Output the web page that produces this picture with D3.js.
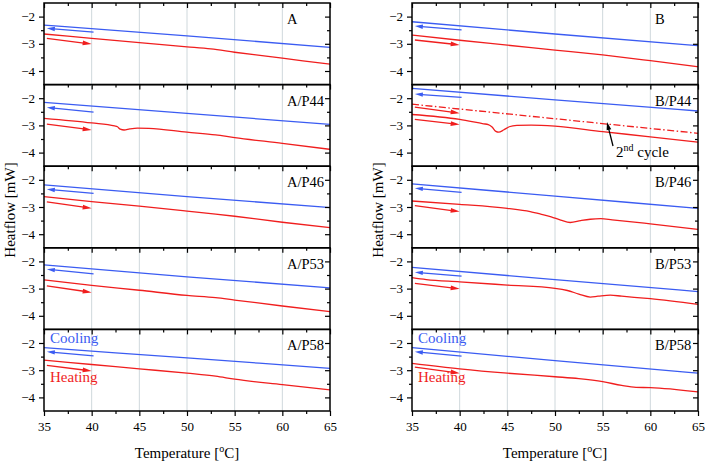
<!DOCTYPE html>
<html><head><meta charset="utf-8">
<script src="https://cdn.jsdelivr.net/npm/d3@7"></script>
<style>body{margin:0;background:#fff}svg{display:block}</style>
</head><body>
<svg id="chart" width="705" height="464"></svg>
<script>
// ---------- DATA ----------
const panelLabels = ["A","A/P44","A/P46","A/P53","A/P58","B","B/P44","B/P46","B/P53","B/P58"];
const xMajorTicks = [35,40,45,50,55,60,65];
const xMinorTicks = [37.5,42.5,47.5,52.5,57.5,62.5];
const yMajorTicks = [-2,-3,-4];
const yMinorTicks = [-2.5,-3.5];
const gridTemps = [40,45,50,55,60];

// cooling curves [T, heatflow]
const coolA    = [[35,-2.31],[50,-2.71],[65,-3.13]];
const coolAP44 = [[35,-2.15],[50,-2.56],[65,-2.96]];
const coolAP46 = [[35,-2.19],[50,-2.62],[65,-3.02]];
const coolAP53 = [[35,-2.13],[50,-2.57],[65,-2.97]];
const coolAP58 = [[35,-2.17],[50,-2.55],[65,-2.93]];
const coolB    = [[35,-2.19],[50,-2.64],[65,-3.07]];
const coolBP44 = [[35,-1.64],[50,-2.06],[65,-2.47]];
const coolBP46 = [[35,-2.15],[50,-2.60],[65,-3.05]];
const coolBP53 = [[35,-2.22],[50,-2.67],[65,-3.11]];
const coolBP58 = [[35,-2.17],[50,-2.65],[65,-3.11]];

// heating curves [T, heatflow]
const heatA    = [[35,-2.64],[40,-2.80],[45,-2.96],[50,-3.11],[52.5,-3.19],[55,-3.31],[60,-3.53],[65,-3.75]];
const heatAP44 = [[35,-2.74],[40,-2.91],[42.4,-3.02],[42.7,-3.05],[43.0,-3.14],[43.4,-3.17],[44.0,-3.13],[44.8,-3.10],[46,-3.11],[50,-3.25],[53,-3.35],[55,-3.45],[60,-3.66],[65,-3.88]];
const heatAP46 = [[35,-2.62],[40,-2.80],[45,-2.97],[50,-3.15],[53,-3.26],[55,-3.34],[60,-3.56],[65,-3.76]];
const heatAP53 = [[35,-2.68],[40,-2.88],[45,-3.06],[50,-3.25],[53,-3.33],[55,-3.42],[60,-3.64],[65,-3.85]];
const heatAP58 = [[35,-2.63],[40,-2.79],[45,-2.95],[50,-3.11],[53,-3.22],[55,-3.33],[60,-3.53],[65,-3.72]];
const heatB    = [[35,-2.68],[40,-2.87],[45,-3.05],[50,-3.23],[55,-3.41],[60,-3.62],[65,-3.84]];
const heatBP44 = [[35,-2.60],[40,-2.78],[42.5,-2.94],[43.0,-2.97],[43.4,-3.06],[43.8,-3.22],[44.1,-3.25],[44.6,-3.17],[45.2,-3.05],[46,-3.00],[47.5,-2.99],[50,-3.03],[55,-3.23],[60,-3.42],[65,-3.62]];
const heatBP46 = [[35,-2.78],[40,-2.90],[45,-3.05],[47.4,-3.17],[48.5,-3.26],[49.6,-3.36],[50.6,-3.48],[51.6,-3.57],[52.7,-3.50],[53.7,-3.45],[54.8,-3.43],[56,-3.47],[60,-3.62],[65,-3.82]];
const heatBP53 = [[35,-2.60],[36.5,-2.67],[40,-2.75],[45,-2.87],[50,-2.99],[51.3,-3.07],[52.5,-3.20],[53.7,-3.31],[54.5,-3.28],[55.8,-3.24],[57,-3.28],[58.3,-3.32],[60,-3.37],[65,-3.58]];
const heatBP58 = [[35,-2.75],[40,-2.95],[45,-3.11],[50,-3.24],[52.5,-3.31],[55,-3.42],[57,-3.56],[58.5,-3.63],[60,-3.64],[65,-3.80]];

// second heating cycle of B/P44
const secondCycleBP44 = [[35,-2.22],[65,-3.29]];

const coolCurves = [coolA,coolAP44,coolAP46,coolAP53,coolAP58,coolB,coolBP44,coolBP46,coolBP53,coolBP58];
const heatCurves = [heatA,heatAP44,heatAP46,heatAP53,heatAP58,heatB,heatBP44,heatBP46,heatBP53,heatBP58];

// direction arrows: [heatflow at 40.2 °C tail, heatflow at 35.3 °C head]
const coolArrowVals = [[-2.57,-2.43],[-2.51,-2.34],[-2.50,-2.35],[-2.46,-2.29],[-2.47,-2.32],
                       [-2.49,-2.35],[-1.97,-1.85],[-2.46,-2.31],[-2.54,-2.40],[-2.48,-2.32]];
// heating arrows: [heatflow at 35.3 °C tail, heatflow at 40 °C head]
const heatArrowVals = [[-2.80,-3.01],[-2.95,-3.17],[-2.81,-3.05],[-2.90,-3.14],[-2.82,-3.03],
                       [-2.86,-3.04],[-2.78,-2.97],[-2.95,-3.17],[-2.81,-3.01],[-2.89,-3.11]];
const secondCycleArrowVals = [-2.33,-2.55];

// ---------- LAYOUT ----------
const BLUE = "#3b5cf2", RED = "#f01e1e";
const cols = [{x0:44,x1:330},{x0:412,x1:698}];
const plotTop = 3, panelH = 81.6, nRows = 5;
const serif = "'Liberation Serif','Times New Roman',serif";

const svg = d3.select("#chart");
svg.append("rect").attr("width",705).attr("height",464).attr("fill","#fff");

function arrow(g, x1, y1, x2, y2, color, len, hw){
  const dx = x2-x1, dy = y2-y1, L = Math.hypot(dx,dy);
  const ux = dx/L, uy = dy/L;
  const bx = x2-ux*len, by = y2-uy*len;
  g.append("line").attr("x1",x1).attr("y1",y1).attr("x2",bx+ux*1).attr("y2",by+uy*1)
    .attr("stroke",color).attr("stroke-width",1.3);
  g.append("path").attr("d",`M${x2},${y2}L${bx-uy*hw},${by+ux*hw}L${bx+uy*hw},${by-ux*hw}Z`)
    .attr("fill",color);
}

cols.forEach((c, ci) => {
  const x = d3.scaleLinear().domain([35,65]).range([c.x0,c.x1]);
  for (let r = 0; r < nRows; r++){
    const idx = ci*nRows + r;
    const yTop = plotTop + r*panelH, yBot = yTop + panelH;
    const y = d3.scaleLinear().domain([-4.5,-1.5]).range([yBot,yTop]);
    const g = svg.append("g");

    // grid
    g.selectAll(".grid").data(gridTemps).join("line")
      .attr("x1",d=>x(d)).attr("x2",d=>x(d)).attr("y1",yTop).attr("y2",yBot)
      .attr("stroke","#cfd8dc").attr("stroke-width",1);

    const line = d3.line().x(d=>x(d[0])).y(d=>y(d[1])).curve(d3.curveMonotoneX);

    // curves
    g.append("path").datum(coolCurves[idx]).attr("d",line).attr("fill","none")
      .attr("stroke",BLUE).attr("stroke-width",1.3);
    g.append("path").datum(heatCurves[idx]).attr("d",line).attr("fill","none")
      .attr("stroke",RED).attr("stroke-width",1.3);
    if (panelLabels[idx] === "B/P44"){
      g.append("path").datum(secondCycleBP44).attr("d",line).attr("fill","none")
        .attr("stroke",RED).attr("stroke-width",1.3).attr("stroke-dasharray","7,2.5,1.5,2.5");
      arrow(g, x(35.3), y(secondCycleArrowVals[0]), x(40.0), y(secondCycleArrowVals[1]), RED, 9, 2.4);
    }

    // arrows
    const ca = coolArrowVals[idx], ha = heatArrowVals[idx];
    arrow(g, x(40.2), y(ca[0]), x(35.3), y(ca[1]), BLUE, 8, 2.2);
    arrow(g, x(35.3), y(ha[0]), x(40.0), y(ha[1]), RED, 9, 2.4);

    // axes
    const axL = g.append("g").attr("transform",`translate(${c.x0},0)`);
    axL.call(d3.axisLeft(y).tickValues(yMajorTicks).tickSize(5).tickPadding(4).tickFormat(d3.format("d")));
    axL.call(g2=>g2.select(".domain").remove());
    g.append("g").attr("transform",`translate(${c.x0},0)`)
      .call(d3.axisLeft(y).tickValues(yMinorTicks).tickSize(3).tickFormat(""))
      .call(g2=>g2.select(".domain").remove());
    g.append("g").attr("transform",`translate(${c.x1},0)`)
      .call(d3.axisRight(y).tickValues(yMajorTicks).tickSize(-5).tickFormat(""))
      .call(g2=>g2.select(".domain").remove());
    g.append("g").attr("transform",`translate(${c.x1},0)`)
      .call(d3.axisRight(y).tickValues(yMinorTicks).tickSize(-3).tickFormat(""))
      .call(g2=>g2.select(".domain").remove());
    g.append("g").attr("transform",`translate(0,${yTop})`)
      .call(d3.axisTop(x).tickValues(xMajorTicks).tickSize(-5).tickFormat(""))
      .call(g2=>g2.select(".domain").remove());
    g.append("g").attr("transform",`translate(0,${yTop})`)
      .call(d3.axisTop(x).tickValues(xMinorTicks).tickSize(-3).tickFormat(""))
      .call(g2=>g2.select(".domain").remove());
    if (r === nRows-1){
      g.append("g").attr("transform",`translate(0,${yBot})`)
        .call(d3.axisBottom(x).tickValues(xMajorTicks).tickSize(5).tickPadding(6).tickFormat(d3.format("d")))
        .call(g2=>g2.select(".domain").remove());
      g.append("g").attr("transform",`translate(0,${yBot})`)
        .call(d3.axisBottom(x).tickValues(xMinorTicks).tickSize(3).tickFormat(""))
        .call(g2=>g2.select(".domain").remove());
    }
    g.selectAll(".tick line").attr("stroke","#000").attr("stroke-width",1.2);
    g.selectAll(".tick text").attr("font-family",serif).attr("font-size",13).attr("fill","#000");

    // frame
    g.append("rect").attr("x",c.x0).attr("y",yTop).attr("width",c.x1-c.x0).attr("height",panelH)
      .attr("fill","none").attr("stroke","#000").attr("stroke-width",1.5);

    // panel label
    g.append("text").attr("x",c.x1-43).attr("y",yTop+21).attr("font-family",serif)
      .attr("font-size",14.5).attr("fill","#000").text(panelLabels[idx]);

    if (r === nRows-1){
      g.append("text").attr("x",c.x0+6).attr("y",yTop+14).attr("font-family",serif)
        .attr("font-size",15).attr("fill",BLUE).text("Cooling");
      g.append("text").attr("x",c.x0+6).attr("y",yTop+53).attr("font-family",serif)
        .attr("font-size",15).attr("fill",RED).text("Heating");
    }
  }

  // axis titles
  const xt = svg.append("text").attr("x",(c.x0+c.x1)/2).attr("y",458).attr("text-anchor","middle")
    .attr("font-family",serif).attr("font-size",15).attr("fill","#000");
  xt.append("tspan").text("Temperature [");
  xt.append("tspan").attr("font-size",10).attr("dy",-6).text("o");
  xt.append("tspan").attr("dy",6).text("C]");

  svg.append("text").attr("transform",`translate(${c.x0-29},${plotTop+panelH*2.5+3}) rotate(-90)`)
    .attr("text-anchor","middle").attr("font-family",serif).attr("font-size",15).attr("fill","#000")
    .text("Heatflow [mW]");
});

// 2nd cycle annotation
const ann = svg.append("g");
arrow(ann, 613, 146, 607, 122, "#000", 8, 2.4);
const at = ann.append("text").attr("x",616).attr("y",157).attr("font-family",serif)
  .attr("font-size",15).attr("fill","#000");
at.append("tspan").text("2");
at.append("tspan").attr("font-size",10).attr("dy",-6).text("nd");
at.append("tspan").attr("dy",6).text(" cycle");
</script>
</body></html>
